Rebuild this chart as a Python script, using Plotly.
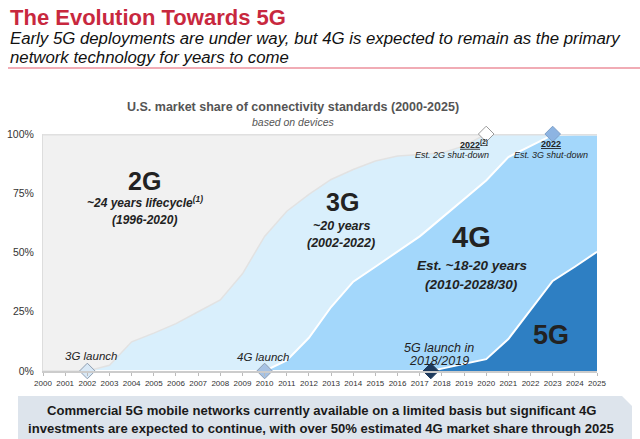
import plotly.graph_objects as go

# ---- data ----
years = [2000, 2001, 2002, 2003, 2004, 2005, 2006, 2007, 2008, 2009, 2010, 2011, 2012,
         2013, 2014, 2015, 2016, 2017, 2017.5, 2018, 2019, 2020, 2021, 2022, 2023, 2024, 2025]
share_5g = [0, 0, 0, 0, 0, 0, 0, 0, 0, 0, 0, 0, 0,
            0, 0, 0, 0, 0, 0, 1, 3, 5, 13.5, 26, 38, 44, 50.3]
share_4g = [0, 0, 0, 0, 0, 0, 0, 0, 0, 0, 0, 4.5, 14,
            27, 37.7, 44, 50.4, 56.8, 60.7, 63.7, 69.8, 75.4, 76.8, 69, 61.6, 55.8, 49.5]
share_3g = [0, 0, 0, 2.4, 12.3, 16, 20, 25, 30, 41, 56.8, 62.9, 60.5,
            53.8, 47.3, 44.6, 40.3, 34.6, 31, 27.3, 22.2, 19.6, 9.7, 5, 0.4, 0.2, 0.2]
share_2g = [100, 100, 100, 97.6, 87.7, 84, 80, 75, 70, 59, 43.2, 32.6, 25.5,
            19.2, 15, 11.4, 9.3, 8.6, 8.3, 8, 5, 0, 0, 0, 0, 0, 0]

milestone_x = [2002, 2010, 2017.5, 2020, 2023]
milestone_y = [0, 0, 0, 100, 100]
milestone_fill = ["#d8e8f6", "#a6c2e4", "#1f3b5d", "#ffffff", "#8db4e2"]
milestone_line = ["#8d9db0", "#8d9db0", "#1f3b5d", "#9a9a9a", "#7d9fc8"]

tick_years = list(range(2000, 2026))
y_ticks = [0, 25, 50, 75, 100]
y_tick_labels = ["0%", "25%", "50%", "75%", "100%"]

FONT = "Arial, Liberation Sans, sans-serif"
W, H = 640, 439
ML, MR, MT, MB = 43, 43, 134, 68
PW, PH = W - ML - MR, H - MT - MB

def px2x(px):
    return (px - ML) / PW

def py2y(py):
    return (H - MB - py) / PH

fig = go.Figure()
fig.add_trace(go.Scatter(x=years, y=share_5g, stackgroup="s", mode="lines",
                         line=dict(color="white", width=2), fillcolor="#2e7fc3",
                         hoverinfo="skip"))
fig.add_trace(go.Scatter(x=years, y=share_4g, stackgroup="s", mode="lines",
                         line=dict(color="white", width=2), fillcolor="#a3d7fb",
                         hoverinfo="skip"))
fig.add_trace(go.Scatter(x=years, y=share_3g, stackgroup="s", mode="lines",
                         line=dict(color="#e2e2e2", width=1.5), fillcolor="#d9effc",
                         hoverinfo="skip"))
fig.add_trace(go.Scatter(x=years, y=share_2g, stackgroup="s", mode="lines",
                         line=dict(color="#e0e0e0", width=3), fillcolor="#f1f1f1",
                         hoverinfo="skip"))
fig.add_trace(go.Scatter(x=milestone_x, y=milestone_y, mode="markers", cliponaxis=False,
                         marker=dict(symbol="diamond", size=12, color=milestone_fill,
                                     line=dict(color=milestone_line, width=1)),
                         hoverinfo="skip"))

ann = []
def A(x, y, text, size, color="#222", **kw):
    ann.append(dict(x=x, y=y, xref="x", yref="y", text=text, showarrow=False,
                    font=dict(family=FONT, size=size, color=color), **kw))

A(2004.6, 80.0, "<b>2G</b>", 25)
A(2004.6, 71.5, "<b><i>~24 years lifecycle<sup>(1)</sup></i></b>", 12)
A(2004.6, 63.8, "<b><i>(1996-2020)</i></b>", 12)
A(2013.5, 71.5, "<b>3G</b>", 25)
A(2013.45, 61.3, "<b><i>~20 years</i></b>", 12.5)
A(2013.45, 54.1, "<b><i>(2002-2022)</i></b>", 12.5)
A(2019.35, 56.7, "<b>4G</b>", 29)
A(2019.35, 44.7, "<b><i>Est. ~18-20 years</i></b>", 13.5)
A(2019.35, 36.7, "<b><i>(2010-2028/30)</i></b>", 13.5)
A(2022.92, 15.4, "<b>5G</b>", 27)
A(2019.45, 95.6, "<b><u>2022<sup>(2)</sup></u></b>", 9)
A(2018.46, 91.0, "<i>Est. 2G shut-down</i>", 9)
A(2022.92, 95.6, "<b><u>2022</u></b>", 9)
A(2022.92, 91.0, "<i>Est. 3G shut-down</i>", 9)
A(2002.18, 6.2, "<i>3G launch</i>", 11.5)
A(2009.92, 5.7, "<i>4G launch</i>", 11.5)
A(2017.85, 9.9, "<i>5G launch in</i>", 12.5)
A(2017.85, 4.4, "<i>2018/2019</i>", 12.5)

def P(px, py, text, size, color="#222", xanchor="center", **kw):
    ann.append(dict(x=px2x(px), y=py2y(py), xref="paper", yref="paper", text=text,
                    showarrow=False, xanchor=xanchor, yanchor="middle",
                    font=dict(family=FONT, size=size, color=color), **kw))

P(8, 17, "<b>The Evolution Towards 5G</b>", 22, color="#c8283e", xanchor="left")
P(8, 38, "<i>Early 5G deployments are under way, but 4G is expected to remain as the primary</i>",
  16.8, color="#111", xanchor="left")
P(8, 57, "<i>network technology for years to come</i>", 16.8, color="#111", xanchor="left")
P(293, 107, "<b>U.S. market share of connectivity standards (2000-2025)</b>", 12.5, color="#555")
P(293, 122, "<i>based on devices</i>", 10.5, color="#555")
P(321, 410, "<b>Commercial 5G mobile networks currently available on a limited basis but significant 4G</b>",
  13.1, color="#1a1a1a")
P(321, 428, "<b>investments are expected to continue, with over 50% estimated 4G market share through 2025</b>",
  13.1, color="#1a1a1a")

shapes = [
    dict(type="line", xref="paper", yref="paper", x0=px2x(8), x1=px2x(640),
         y0=py2y(68), y1=py2y(68), line=dict(color="#e35a6c", width=1.2), layer="above"),
    dict(type="path", xref="paper", yref="paper",
         path=(f"M {px2x(18)} {py2y(396)} L {px2x(622)} {py2y(396)} L {px2x(632)} {py2y(406)} "
               f"L {px2x(632)} {py2y(439)} L {px2x(18)} {py2y(439)} Z"),
         fillcolor="#dde4ec", line=dict(width=0), layer="below"),
]

fig.update_layout(
    width=W, height=H, margin=dict(l=ML, r=MR, t=MT, b=MB, autoexpand=False),
    paper_bgcolor="white", plot_bgcolor="white", showlegend=False,
    annotations=ann, shapes=shapes,
    xaxis=dict(range=[2000, 2025], tickvals=tick_years, ticktext=[str(t) for t in tick_years],
               tickfont=dict(family=FONT, size=8, color="#333"), showgrid=False, zeroline=False,
               showline=True, linecolor="#cccccc", linewidth=2, ticks="outside", ticklen=3,
               tickcolor="#bbbbbb", layer="above traces", fixedrange=True, automargin=False),
    yaxis=dict(range=[0, 100], tickvals=y_ticks, ticktext=y_tick_labels,
               tickfont=dict(family=FONT, size=10.5, color="#333"), showgrid=False, zeroline=False,
               showline=True, linecolor="#dddddd", linewidth=1, ticks="outside", ticklen=6,
               tickcolor="rgba(0,0,0,0)", fixedrange=True, automargin=False),
)

fig.write_html("out.html", config={"displayModeBar": False},
               post_script="document.body.style.margin='0px';")
